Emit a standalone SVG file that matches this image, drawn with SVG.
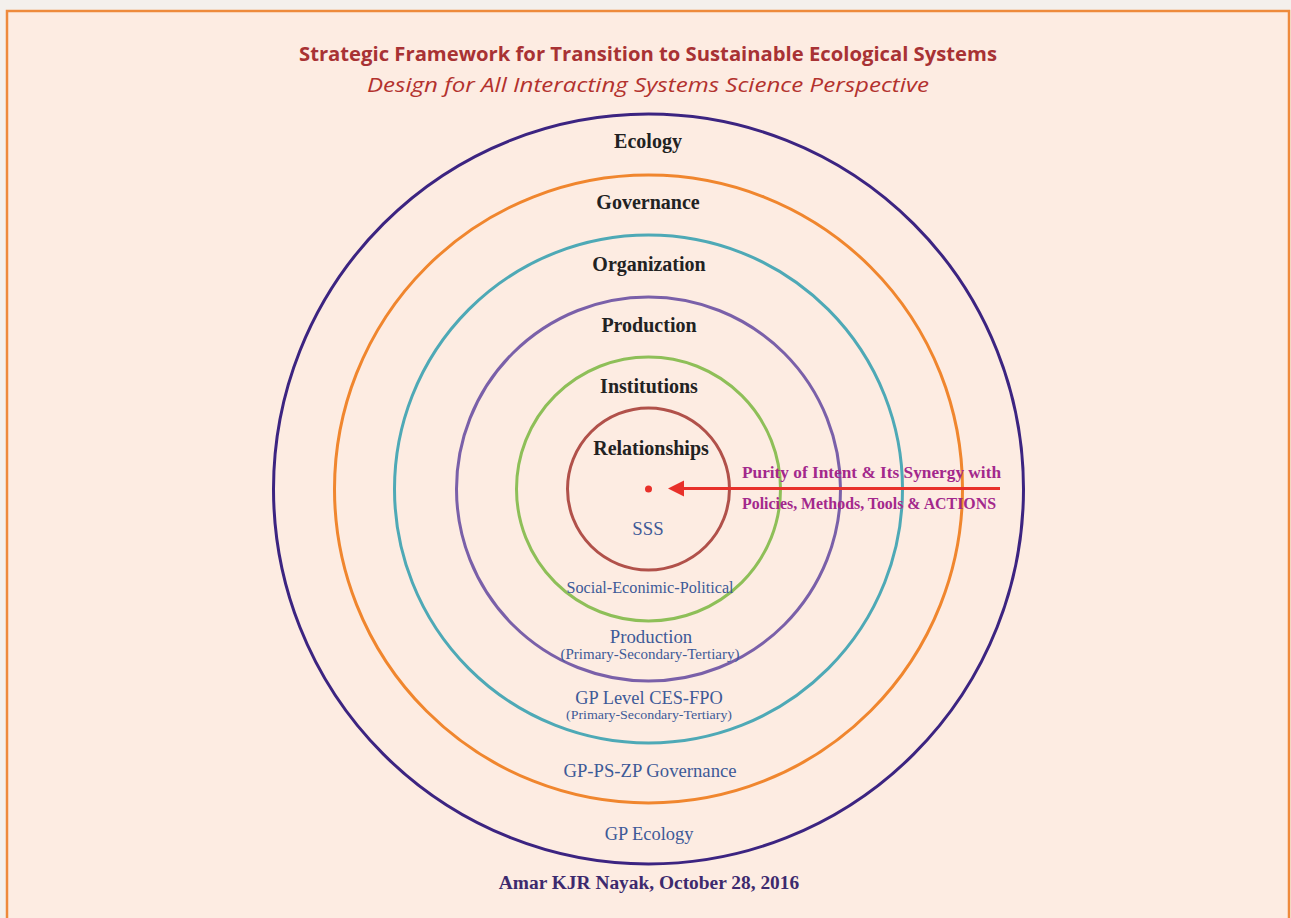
<svg xmlns="http://www.w3.org/2000/svg" width="1291" height="918" viewBox="0 0 1291 918">
<defs>
<style>
.ring{fill:none;stroke-width:3}
.lbl{font-family:"Liberation Serif","Times New Roman",serif;font-weight:bold;font-size:20px;fill:#222;text-anchor:middle}
.sub{font-family:"Liberation Serif","Times New Roman",serif;fill:#3d5a98;text-anchor:middle}
.note{font-family:"Liberation Serif","Times New Roman",serif;font-weight:bold;fill:#a3288c}
</style>
</defs>
<rect x="0" y="0" width="1291" height="918" fill="#f4f0ec"/>
<rect x="7" y="11" width="1282" height="920" fill="#fdece2" stroke="#ee8a3c" stroke-width="2.5"/>
<g id="title">
<text x="648" y="61" text-anchor="middle" font-family="'Open Sans','Noto Sans',sans-serif" font-weight="bold" font-size="19.5" fill="#a83234" textLength="698" lengthAdjust="spacingAndGlyphs">Strategic Framework for Transition to Sustainable Ecological Systems</text>
<text x="648" y="92" text-anchor="middle" font-family="'Open Sans','Noto Sans',sans-serif" font-style="italic" font-size="19.5" fill="#b3322e" textLength="562" lengthAdjust="spacingAndGlyphs">Design for All Interacting Systems Science Perspective</text>
</g>
<g id="ecology">
<circle class="ring" cx="648.5" cy="489" r="375" stroke="#3c2481"/>
<text class="lbl" x="648" y="148">Ecology</text>
<text class="sub" x="649" y="840" style="font-size:18.4px">GP Ecology</text>
</g>
<g id="governance">
<circle class="ring" cx="648.5" cy="489" r="314" stroke="#f0862e"/>
<text class="lbl" x="648" y="209">Governance</text>
<text class="sub" x="650" y="777" style="font-size:18.7px">GP-PS-ZP Governance</text>
</g>
<g id="organization">
<circle class="ring" cx="648.5" cy="489" r="254" stroke="#4ea9b6"/>
<text class="lbl" x="649" y="271">Organization</text>
<text class="sub" x="649" y="704" style="font-size:18.4px">GP Level CES-FPO</text>
<text class="sub" x="649" y="719" style="font-size:12.8px" textLength="166" lengthAdjust="spacingAndGlyphs">(Primary-Secondary-Tertiary)</text>
</g>
<g id="production">
<circle class="ring" cx="648.5" cy="489" r="192" stroke="#7a60a9"/>
<text class="lbl" x="649" y="332">Production</text>
<text class="sub" x="651" y="643" style="font-size:18.8px">Production</text>
<text class="sub" x="650" y="659" style="font-size:14px" textLength="179" lengthAdjust="spacingAndGlyphs">(Primary-Secondary-Tertiary)</text>
</g>
<g id="institutions">
<circle class="ring" cx="648.5" cy="489" r="132" stroke="#8ebf58"/>
<text class="lbl" x="649" y="393">Institutions</text>
<text class="sub" x="650" y="593" style="font-size:16.2px">Social-Econimic-Political</text>
</g>
<g id="relationships">
<circle class="ring" cx="648.5" cy="489" r="81" stroke="#b1514a"/>
<text class="lbl" x="651" y="455">Relationships</text>
<text class="sub" x="648" y="535" style="font-size:18.8px">SSS</text>
<circle cx="648.5" cy="489" r="3.5" fill="#e8302a"/>
</g>
<g id="connectors">
<line x1="1000" y1="488.5" x2="683" y2="488.5" stroke="#e8302a" stroke-width="3"/>
<path d="M668,488.5 L684,480.5 L684,496.5 Z" fill="#e8302a"/>
</g>
<g id="intent">
<text class="note" x="742" y="478" style="font-size:17.5px" textLength="259" lengthAdjust="spacingAndGlyphs">Purity of Intent &amp; Its Synergy with</text>
<text class="note" x="742" y="509" style="font-size:16.5px" textLength="254" lengthAdjust="spacingAndGlyphs">Policies, Methods, Tools &amp; ACTIONS</text>
</g>
<g id="author">
<text x="649" y="889" text-anchor="middle" font-family="'Liberation Serif','Times New Roman',serif" font-weight="bold" font-size="19.4" fill="#3d2a6e">Amar KJR Nayak, October 28, 2016</text>
</g>
</svg>
